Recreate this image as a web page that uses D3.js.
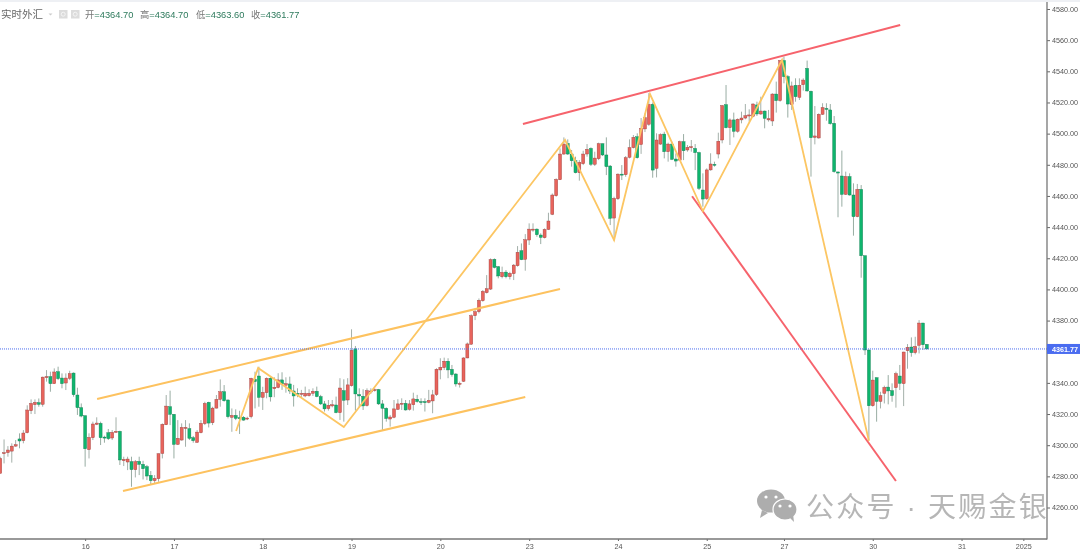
<!DOCTYPE html>
<html><head><meta charset="utf-8">
<script src="https://cdn.jsdelivr.net/npm/d3@7"></script>
<style>html,body{margin:0;padding:0;background:#fff;overflow:hidden}svg{display:block;filter:blur(.35px)}text{font-family:"Liberation Sans","Noto Sans CJK SC",sans-serif}</style>
</head><body><div id="c"></div>
<script>
const opens=[4281.9,4294.7,4295.2,4296.2,4299.4,4304,4302.9,4308,4322.1,4326,
4327.3,4326.2,4343.5,4344,4339.5,4347.2,4343.1,4339.9,4342.9,4346.3,
4332.2,4324.1,4318.9,4297.1,4304.8,4313.4,4314,4305.2,4308,4304.6,
4308.2,4308.9,4290,4289.2,4289.4,4284.3,4289.6,4287.7,4286.2,4280.6,
4277.2,4278.5,4294.7,4313.1,4324.7,4319.8,4300.5,4303.3,4311,4310.6,
4304.8,4301.8,4308,4313.8,4327.5,4314.4,4323.8,4329.4,4334.3,4329,
4317.9,4319.1,4317.6,4317.9,4317,4318.3,4342.2,4344.4,4330.7,4333.7,
4343,4336.3,4337,4341.9,4338.5,4339.3,4334.8,4333.3,4332.9,4331.6,
4331.8,4333.3,4334.6,4331.2,4326.5,4323.5,4325.2,4325.8,4320.9,4335,
4329,4338.2,4361.8,4332.5,4331.4,4325.4,4334.2,4335.2,4335.7,4326.5,
4323.7,4316.8,4317.9,4323,4326.5,4326.9,4323,4326,4329.5,4328,
4328,4327.5,4328.4,4332.5,4348.3,4349.8,4353.9,4348.7,4345.7,4339.3,
4341,4356,4364.8,4383.1,4385.7,4392.7,4397.9,4400.2,4419.3,4414.6,
4408.1,4411.1,4408.1,4410.1,4415.2,4424.8,4419.3,4431.7,4438.1,4438.7,
4434.9,4433.2,4438.5,4448.2,4460.1,4470.4,4486.9,4493.7,4486.9,4482.6,
4474.9,4480.7,4486.9,4490.5,4480.3,4483.9,4493.5,4486.3,4479.2,4445.8,
4458.2,4474,4473.6,4484.8,4491,4498,4493,4503,4506,4518.8,
4477.7,4493.3,4499.7,4488.4,4493.3,4483.7,4483,4494.8,4489.5,4491.2,
4490.5,4487.8,4463.8,4458.3,4476.7,4480.3,4486.9,4495.9,4518.6,4503.8,
4508.8,4501.5,4508.8,4510,4511.3,4511.1,4518.4,4512.6,4514.5,4508.8,
4508.1,4525.4,4521.2,4546.9,4536.6,4518.6,4531,4523.3,4531.4,4541.9,
4527.2,4497.6,4497.2,4512.4,4516.2,4515.2,4506.6,4475.4,4472.8,4461,
4472.4,4460.6,4446.7,4464.2,4421.6,4361.1,4325.3,4343.3,4328.1,4333.3,
4337.3,4335,4336.9,4344.4,4339.5,4360.7,4363,4359.4,4364.1,4378.4,4364.7];
const highs=[4292.6,4303.7,4299.4,4301.2,4303.3,4307.6,4309.7,4325.6,4329.4,4329.4,
4330,4344,4348.2,4347.2,4349.3,4350.4,4346.1,4346.1,4347.8,4346.7,
4336.9,4326.8,4319.1,4307.6,4315.1,4317.9,4315.1,4306.1,4310.4,4309.7,
4317.9,4309.3,4292.6,4292.6,4292.6,4290.5,4292.6,4290,4287.3,4283.4,
4280.8,4294.7,4314,4332.2,4335,4320,4316.1,4314,4316.1,4314,
4305.9,4309.7,4316.1,4327.9,4327.9,4324.7,4332.2,4342.2,4338.6,4329.4,
4323.6,4323,4322.1,4318.7,4318.3,4343.3,4347.2,4350.4,4337.5,4343.5,
4344,4343.6,4346.2,4346.8,4343.6,4344,4338.7,4336.5,4335.5,4337.6,
4335.9,4336.5,4337.6,4332.3,4328.4,4329,4329,4331.2,4343,4342.3,
4343,4374.4,4363.7,4336.5,4335.9,4336.5,4336.5,4336.5,4336.1,4329,
4324.3,4319.4,4329,4329.5,4330.1,4329,4329,4333.7,4332.3,4330.1,
4330.1,4335.5,4335.5,4349.4,4355.8,4356.2,4355.8,4351.5,4346.2,4340.8,
4356.4,4365.9,4384,4387.8,4394.2,4399.6,4409.2,4419.9,4419.9,4415,
4414.6,4412.4,4411.3,4416.3,4427.8,4429.5,4435.5,4442.4,4442.4,4439.2,
4436,4439.2,4449.2,4461.6,4471.3,4490.5,4497.6,4496.3,4489.5,4485.2,
4483,4489,4493.3,4491.2,4488.4,4494.2,4493.7,4497.6,4479.8,4459.5,
4474.5,4479.8,4485.6,4496.3,4499.1,4500.2,4510,4513,4526,4520,
4500.2,4500.2,4501.2,4494.2,4494.8,4487.3,4495.5,4499.7,4492.7,4495.9,
4493.3,4488.4,4474.5,4477.7,4487.4,4482,4500.6,4518.4,4531.2,4509.8,
4513.5,4509.8,4514.1,4519,4515.6,4519.5,4520.5,4523.7,4514.8,4515.2,
4525.9,4533.4,4547.3,4549.4,4537.6,4533.4,4535.5,4535.5,4535.5,4546.9,
4527.6,4517.7,4513,4519.5,4519.5,4519,4511.3,4475.6,4489.1,4475.6,
4474.5,4468.1,4467.7,4467,4421.8,4361.4,4347.8,4343.5,4334.3,4338.2,
4345,4339.7,4347.2,4351.5,4360,4364.9,4369.2,4369.6,4380.3,4378.6,4364.9];
const lows=[4281.9,4288.3,4292.6,4288.8,4299,4298,4301.2,4307.6,4320,4320,
4324.7,4324.7,4340.8,4334.3,4339.3,4341.8,4336.5,4335.4,4341.8,4331.1,
4319.4,4317.9,4286.2,4291.5,4303.3,4312.9,4300.1,4301.6,4303.3,4303.3,
4308,4287.3,4286.6,4284,4273.3,4279.3,4280.8,4278,4277.6,4275,
4275.5,4276.5,4291.5,4312.9,4312.9,4291.5,4300.1,4302.9,4299,4303.3,
4301.6,4301.6,4307.6,4312.9,4311.4,4312.9,4323.6,4324.7,4327.9,4317.2,
4308.6,4316.1,4307.2,4315.7,4316.1,4317.2,4323.6,4324.7,4322.6,4330.1,
4328,4330.8,4336.5,4335.5,4333.7,4332.9,4324.8,4330.8,4330.8,4330.8,
4331.2,4331.6,4330.8,4325.8,4321.6,4322.2,4324.3,4320.5,4316.2,4315.1,
4325.8,4337.6,4322.2,4324.3,4322.6,4324.8,4332.9,4334.4,4325.8,4309.8,
4315.1,4311.9,4317.3,4322.6,4322.6,4322.2,4322.2,4322.2,4327.3,4325.8,
4321.6,4326.9,4320.5,4331.6,4342.3,4348.3,4343,4344,4337.6,4337,
4340.6,4355.8,4364.5,4380.3,4384.6,4392.1,4397.4,4399.6,4413.5,4407.1,
4407.1,4407.1,4406.4,4406,4414.6,4418.8,4412,4428.5,4437,4433.8,
4429.1,4432.7,4438.1,4447.7,4459.5,4470.2,4486.3,4486.3,4478.8,4474.5,
4469.8,4479.8,4485.2,4479.2,4479.2,4483,4485.6,4473.4,4441.3,4431.3,
4457.4,4470.2,4472.3,4484.1,4490.5,4484,4487,4501,4505,4471.7,
4471.9,4492.7,4484.1,4482,4483,4478.8,4482.6,4483,4488.4,4488.4,
4476.6,4463.8,4453.1,4457.4,4476.2,4478.8,4484.1,4493.8,4503.4,4492.7,
4497.6,4500.6,4506.6,4509.2,4507.7,4510.5,4511.3,4512,4503.4,4507.7,
4504.9,4513.5,4520.5,4532.3,4510.3,4515.2,4520.5,4521.6,4527.6,4526.9,
4472.4,4493.1,4496.8,4512,4508.3,4505.8,4474.9,4446.3,4453.1,4460.6,
4460.2,4434.5,4446.3,4407.5,4357.9,4303.3,4324.7,4315.1,4323.6,4326.8,
4326.2,4327.9,4324.1,4335.4,4325.1,4349.1,4356.8,4358.3,4358.9,4361.1,4361.5];
const closes=[4291.5,4295.2,4296.9,4299.4,4300.3,4302.7,4307.8,4322.6,4326.8,4327.5,
4326.2,4343.7,4344,4339.5,4347,4342.7,4339.5,4343.1,4345.9,4332.4,
4324.1,4318.7,4297.7,4305,4313.6,4314.2,4304.8,4305,4304.2,4308.2,
4308.9,4290.5,4290.9,4291.1,4284.3,4289.4,4287.7,4284.9,4280.2,4277.2,
4278.7,4294.5,4313.4,4325.1,4319.8,4300.5,4304.4,4311.4,4311.4,4304.4,
4302.9,4308.4,4314,4326.8,4314.2,4323.8,4329.4,4334.3,4328.5,4318.3,
4319.1,4317.2,4317,4316.1,4317.4,4342.9,4340.8,4330.7,4333.9,4342.9,
4331,4337.2,4341.9,4339.3,4339.5,4334.8,4331.6,4332.9,4333.3,4333.3,
4333.3,4334.6,4331.2,4326.5,4323.3,4325.6,4326,4320.9,4336.7,4328.8,
4338.7,4360.9,4332.9,4331.6,4325.2,4335,4334.8,4335.7,4326.5,4323.7,
4317.1,4318.1,4323.3,4326.5,4326.9,4322.6,4326.5,4329.7,4328,4327.5,
4327.3,4328.8,4332.3,4348.7,4350,4353.9,4348.3,4345.3,4339.3,4339.7,
4356,4365,4383.1,4385.7,4393,4398.7,4400.4,4419.1,4414.1,4408.6,
4410.9,4408.1,4410.3,4415.6,4423.8,4419.1,4431.9,4438.7,4438.7,4435.1,
4433.4,4438.5,4443.9,4460.6,4470.6,4486.9,4493.3,4486.9,4482.6,4474.9,
4481.5,4486.9,4489.9,4480.3,4484.3,4493.5,4486.3,4478.8,4445.6,4458.4,
4474,4473.4,4484.5,4491,4497.6,4484.5,4503.4,4510.2,4518.8,4476.6,
4495.9,4499.3,4488.4,4493.3,4483.5,4482.4,4494.8,4489,4491.2,4491.6,
4487.8,4464.9,4458,4476.7,4480.5,4479.7,4495.1,4518,4503.8,4508.8,
4501.5,4509.2,4510,4511.5,4512,4519,4512.6,4514.5,4509.8,4509.6,
4525.4,4521.2,4546.9,4536.6,4519,4530.6,4523.7,4531,4534.4,4527.4,
4497.4,4498.5,4512.4,4516.7,4515.6,4506.4,4475.6,4474.7,4461,4472.4,
4460.6,4446.7,4464.2,4421.6,4361.1,4325.3,4341.8,4328.1,4331.8,4337.1,
4334.8,4331.8,4345.9,4339.7,4359.8,4362.8,4359.4,4363.4,4378.4,4364.5,4361.77];
const priceTicks=[4580,4560,4540,4520,4500,4480,4460,4440,4420,4400,4380,4340,4320,4300,4280,4260];
const lastPrice=4361.77;
const dateTickIndex=[22,45,68,91,114,137,160,183,203,226,249,265];
const dateTickLabels=["16","17","18","19","20","23","24","25","27","30","31","2025"];
const channelLines=[[[25.1,4329.7],[145,4400.3]],[[31.8,4270.6],[136,4330.9]]];
const wedgeLines=[[[135.4,4506.2],[233.1,4569.7]],[[179.2,4459.8],[232,4277]]];
const zigzag=[[61.1,4309.1],[66.8,4349.6],[89,4311.7],[146.3,4495.9],[159,4431.7],[168.3,4525.4],[182,4450.3],[202.5,4547.3],[225,4302.7]];
const quote=[["开","4364.70"],["高","4364.70"],["低","4363.60"],["收","4361.77"]];
const symbol="实时外汇";
const watermark="公众号 · 天赐金银";

const W=1080,H=550,axisX=1047,axisY=539;
const svg=d3.select("#c").append("svg").attr("width",W).attr("height",H);
const x=d3.scaleLinear().domain([0,271]).range([.2,1046.5]);
const y=d3.scaleLinear().domain([4260,4580]).range([507.5,9]);
svg.append("rect").attr("width",W).attr("height",2).attr("fill","#eef0f4");

const g=svg.append("g");
const up=i=>closes[i]>=opens[i];
const idx=d3.range(opens.length);
g.selectAll("line.w").data(idx).join("line").attr("class","w")
 .attr("x1",i=>x(i)).attr("x2",i=>x(i)).attr("y1",i=>y(highs[i])).attr("y2",i=>y(lows[i]))
 .attr("stroke",i=>up(i)?"#8d9c94":"#7f988c").attr("stroke-width",1).attr("opacity",.8);
g.selectAll("rect.b").data(idx).join("rect").attr("class","b")
 .attr("x",i=>x(i)-1.5).attr("width",3)
 .attr("y",i=>y(Math.max(opens[i],closes[i])))
 .attr("height",i=>Math.max(1,Math.abs(y(opens[i])-y(closes[i]))))
 .attr("fill",i=>up(i)?"#e8645c":"#0fb56d")
 .attr("stroke",i=>up(i)?"#9a3a38":"#0f7a50").attr("stroke-width",.4);

const ln=d3.line().x(d=>x(d[0])).y(d=>y(d[1]));
svg.selectAll("path.ch").data(channelLines).join("path").attr("class","ch").attr("d",ln)
 .attr("fill","none").attr("stroke","#fdc25f").attr("stroke-width",2);
svg.selectAll("path.we").data(wedgeLines).join("path").attr("class","we").attr("d",ln)
 .attr("fill","none").attr("stroke","#f6636c").attr("stroke-width",2);
svg.append("path").attr("d",ln(zigzag)).attr("fill","none").attr("stroke","#fcc663").attr("stroke-width",1.8);

svg.append("line").attr("x1",0).attr("x2",axisX).attr("y1",y(lastPrice)).attr("y2",y(lastPrice))
 .attr("stroke","#4a6cf0").attr("stroke-width",1).attr("stroke-dasharray","1 1");

const yAxis=d3.axisRight(y).tickValues(priceTicks).tickFormat(d3.format(".2f")).tickSize(3).tickPadding(2);
const ya=svg.append("g").attr("transform",`translate(${axisX},0)`).call(yAxis);
ya.select(".domain").remove();
ya.selectAll("line").attr("stroke","#666");
ya.selectAll("text").attr("fill","#555").attr("font-size",7.2);
svg.append("line").attr("x1",axisX).attr("x2",axisX).attr("y1",2).attr("y2",axisY+.5).attr("stroke","#777").attr("stroke-width",1.3);

const xAxis=d3.axisBottom(x).tickValues(dateTickIndex).tickFormat((d,i)=>dateTickLabels[i]).tickSize(2).tickPadding(3);
const xa=svg.append("g").attr("transform",`translate(0,${axisY})`).call(xAxis);
xa.select(".domain").remove();
xa.selectAll("line").attr("stroke","#666");
xa.selectAll("text").attr("fill","#555").attr("font-size",7.2);
svg.append("line").attr("x1",0).attr("x2",axisX).attr("y1",axisY).attr("y2",axisY).attr("stroke","#777").attr("stroke-width",1.3);

svg.append("rect").attr("x",axisX).attr("y",y(lastPrice)-5).attr("width",33).attr("height",10).attr("fill","#4a6cf0");
svg.append("text").attr("x",axisX+5).attr("y",y(lastPrice)+2.6).attr("fill","#fff")
 .attr("font-size",7.2).attr("font-weight","bold").text(d3.format(".2f")(lastPrice));

svg.append("text").attr("x",1).attr("y",18).attr("font-size",10.5).attr("fill","#666")
 .attr("font-family","Noto Sans CJK SC").text(symbol);
svg.append("path").attr("d","M48.5 13.5l2 2 2-2z").attr("fill","#ccc");
[59,71].forEach(px=>{
 svg.append("rect").attr("x",px).attr("y",10).attr("width",8.5).attr("height",8.5).attr("fill","#dcdcdc");
 svg.append("circle").attr("cx",px+4.2).attr("cy",14.2).attr("r",2).attr("fill","none").attr("stroke","#f5f5f5");
});
const qx=[85,140,196,251];
quote.forEach((q,i)=>{
 const t=svg.append("text").attr("x",qx[i]).attr("y",18).attr("font-size",9.3);
 t.append("tspan").attr("fill","#777").attr("font-family","Noto Sans CJK SC").text(q[0]);
 t.append("tspan").attr("fill","#2d7a5c").text("="+q[1]);
});

const wm=svg.append("g");
wm.append("text").attr("x",806).attr("y",517).attr("font-family","Noto Sans CJK SC").attr("font-size",28)
 .attr("fill","#b6b6b6").attr("letter-spacing",2.2).text(watermark);
const ic=wm.append("g").attr("fill","#adadad");
ic.append("ellipse").attr("cx",771).attr("cy",501).attr("rx",14).attr("ry",11.5);
ic.append("path").attr("d","M762 510l-2 8 8-5z");
ic.append("ellipse").attr("cx",785).attr("cy",509.5).attr("rx",12).attr("ry",10.5).attr("stroke","#fff").attr("stroke-width",1.2);
ic.append("path").attr("d","M789 517l5 5-1-8z");
[[766,497],[776,497],[780,506],[790,506]].forEach(p=>ic.append("circle").attr("cx",p[0]).attr("cy",p[1]).attr("r",1.6).attr("fill","#fff"));
</script></body></html>
